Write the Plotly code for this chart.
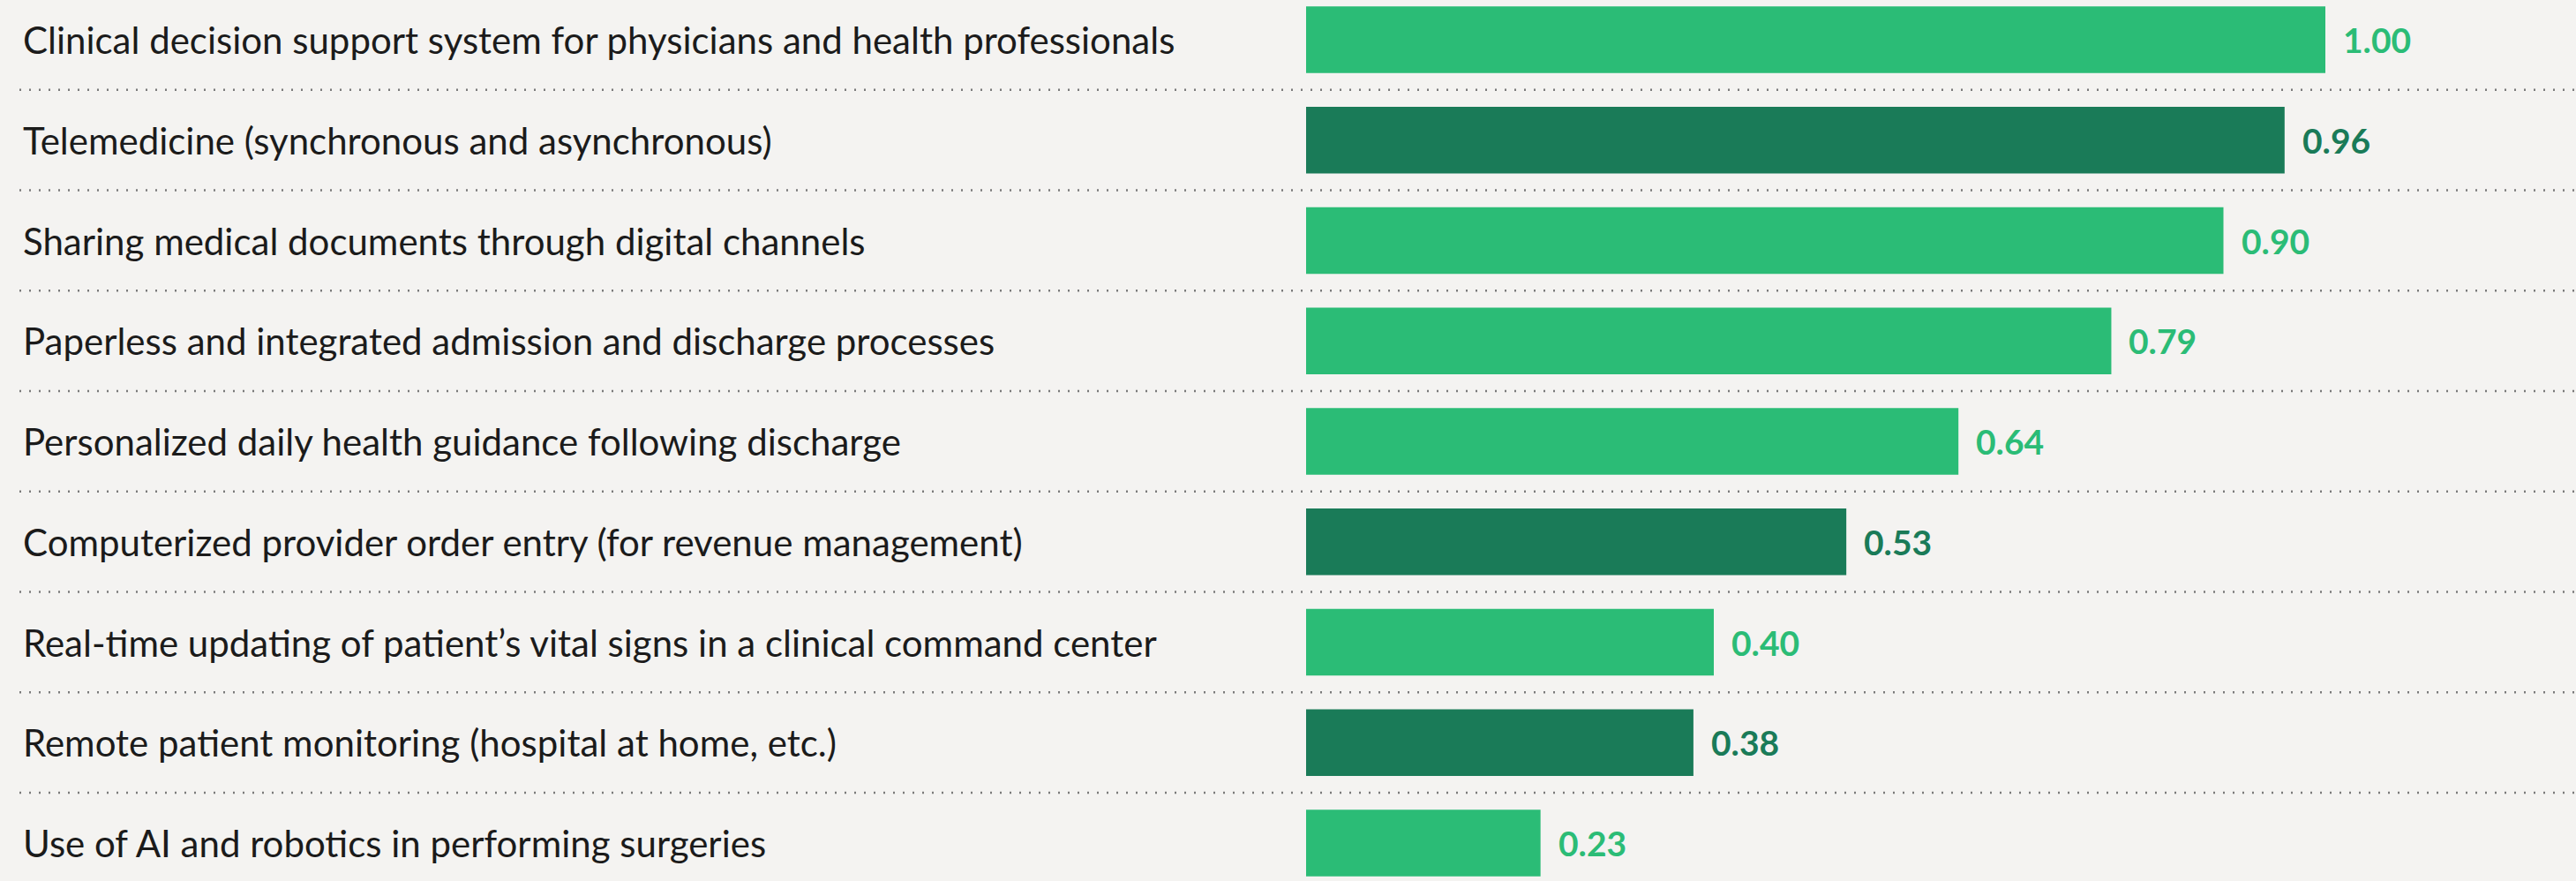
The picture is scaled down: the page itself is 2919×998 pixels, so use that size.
"""Horizontal bar chart: relative value of digital health initiatives."""

import plotly.graph_objects as go

LABELS = [
    "Clinical decision support system for physicians and health professionals",
    "Telemedicine (synchronous and asynchronous)",
    "Sharing medical documents through digital channels",
    "Paperless and integrated admission and discharge processes",
    "Personalized daily health guidance following discharge",
    "Computerized provider order entry (for revenue management)",
    "Real-time updating of patient\u2019s vital signs in a clinical command center",
    "Remote patient monitoring (hospital at home, etc.)",
    "Use of AI and robotics in performing surgeries",
]
VALUES = [1.00, 0.96, 0.90, 0.79, 0.64, 0.53, 0.40, 0.38, 0.23]
HIGHLIGHT = [False, True, False, False, False, True, False, True, False]

LIGHT = "#2BBC76"
DARK = "#1A7B58"
BG = "#F4F3F1"
FONT = "Lato"

W, H = 2919, 998
BAR_X0, PX_PER_UNIT = 1480, 1155  # x=0 pixel and pixels per unit value
ROW0_Y, ROW_PITCH = 45, 113.75

colors = [DARK if h else LIGHT for h in HIGHLIGHT]
rows = list(range(len(LABELS)))

fig = go.Figure(
    go.Bar(
        x=VALUES,
        y=rows,
        orientation="h",
        marker=dict(color=colors, line_width=0),
        width=0.665,
        hoverinfo="skip",
    )
)

# value labels to the right of each bar
for r, v, c in zip(rows, VALUES, colors):
    fig.add_annotation(
        x=v, y=r, text=f"<b>{v:.2f}</b>", showarrow=False,
        xanchor="left", xshift=18, font=dict(family=FONT, size=39, color=c),
    )

# category labels on the left
for r, lab in zip(rows, LABELS):
    fig.add_annotation(
        x=24 / W, xref="paper", y=r, text=lab, showarrow=False,
        xanchor="left", font=dict(family=FONT, size=42, color="#1b1b1b"),
    )

# dotted separators between rows
for r in rows[:-1]:
    fig.add_shape(
        type="line", xref="paper", x0=22 / W, x1=1, y0=r + 0.5, y1=r + 0.5,
        line=dict(color="#7a7a7a", width=2.5, dash="2px,9px"),
        layer="below",
    )

y_top = -ROW0_Y / ROW_PITCH
y_bot = y_top + H / ROW_PITCH
fig.update_layout(
    width=W,
    height=H,
    margin=dict(l=0, r=0, t=0, b=0),
    paper_bgcolor=BG,
    plot_bgcolor=BG,
    showlegend=False,
    xaxis=dict(
        range=[-BAR_X0 / PX_PER_UNIT, (W - BAR_X0) / PX_PER_UNIT],
        visible=False,
    ),
    yaxis=dict(range=[y_bot, y_top], visible=False),
)

fig.write_html(
    "out.html",
    config={"displayModeBar": False},
    post_script="document.body.style.margin='0';document.body.style.overflow='hidden';",
)
